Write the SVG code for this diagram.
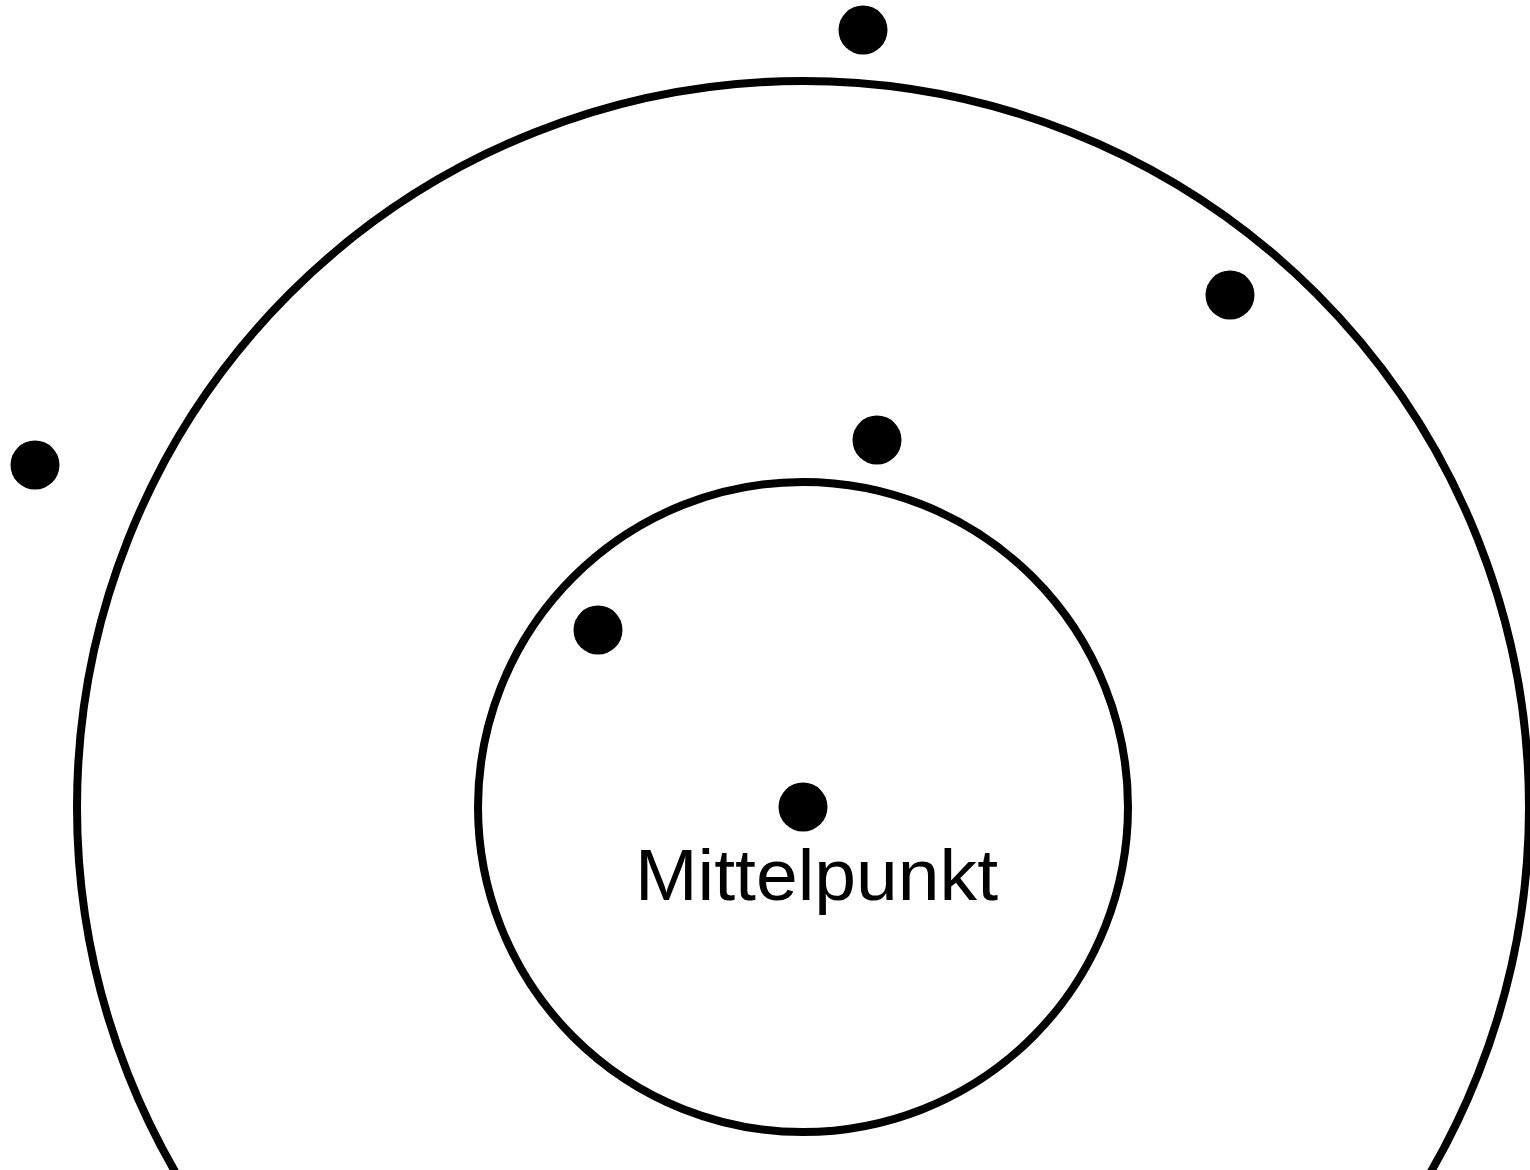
<svg xmlns="http://www.w3.org/2000/svg" width="1530" height="1170" viewBox="0 0 1530 1170">
<style>
.ring{fill:none;stroke:#000;stroke-width:8}
.dot{fill:#000}
.lbl{font-family:"Liberation Sans",Arial,sans-serif;font-size:73px;fill:#000}
</style>
<rect width="1530" height="1170" fill="#fff"/>
<g id="outer-circle"><circle class="ring" cx="803" cy="807" r="726"/></g>
<g id="inner-circle"><circle class="ring" cx="803" cy="807" r="325"/></g>
<g id="p1"><circle class="dot" cx="863" cy="30" r="24.5"/></g>
<g id="p2"><circle class="dot" cx="1230" cy="295" r="24.5"/></g>
<g id="p3"><circle class="dot" cx="35" cy="465" r="24.5"/></g>
<g id="p4"><circle class="dot" cx="877" cy="440" r="24.5"/></g>
<g id="p5"><circle class="dot" cx="598" cy="630" r="24.5"/></g>
<g id="center"><circle class="dot" cx="803" cy="807" r="24.5"/>
<text class="lbl" x="635" y="900" textLength="363" lengthAdjust="spacingAndGlyphs">Mittelpunkt</text></g>
</svg>
